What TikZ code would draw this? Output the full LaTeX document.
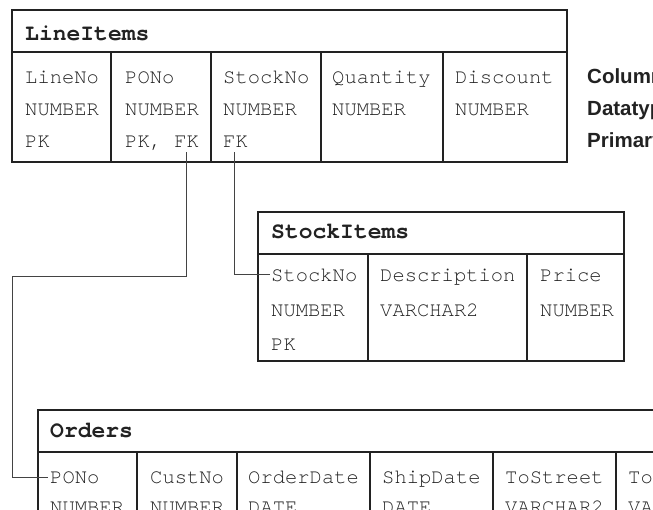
\documentclass[tikz,border=0pt]{standalone}
\usepackage{fontspec}
\newfontfamily\monof{TeX Gyre Cursor}
\newfontfamily\labf{Liberation Sans}
\definecolor{ink}{HTML}{222222}
\begin{document}
\begin{tikzpicture}[x=1pt,y=-1pt,
  cell/.style={anchor=base west, inner sep=0pt, font=\monof\fontsize{20.5}{24}\selectfont, text=ink},
  ttl/.style={anchor=base west, inner sep=0pt, font=\monof\bfseries\fontsize{23}{26}\selectfont, text=ink},
  legend/.style={anchor=base west, inner sep=0pt, font=\labf\bfseries\fontsize{20.5}{24}\selectfont, text=ink},
  tbl/.style={draw=ink, line width=1.4pt},
  sep/.style={draw=ink, line width=1.2pt},
  link/.style={draw=ink!85, line width=1pt}]
\useasboundingbox (0,0) rectangle (653,509);
\begin{scope}
\clip (0,0) rectangle (653,509);
% ---------------- LineItems
\draw[tbl] (12,10) rectangle (567,162);
\draw[sep] (12,52) -- (567,52);
\foreach \x in {111,211,321,443} \draw[sep] (\x,52) -- (\x,162);
\node[ttl] (li-title) at (25,40) {LineItems};
\node[cell] (li-lineno) at (25,83) {LineNo};
\node[cell] (li-pono) at (125,83) {PONo};
\node[cell] (li-stockno) at (223,83) {StockNo};
\node[cell] (li-qty) at (332,83) {Quantity};
\node[cell] (li-disc) at (455,83) {Discount};
\node[cell] (li-t1) at (25,115) {NUMBER};
\node[cell] (li-t2) at (125,115) {NUMBER};
\node[cell] (li-t3) at (223,115) {NUMBER};
\node[cell] (li-t4) at (332,115) {NUMBER};
\node[cell] (li-t5) at (455,115) {NUMBER};
\node[cell] (li-k1) at (25,147) {PK};
\node[cell] (li-k2) at (125,147) {PK, FK};
\node[cell] (li-k3) at (223,147) {FK};
% legend
\node[legend] (lg1) at (587,83) {Column};
\node[legend] (lg2) at (587,115) {Datatype};
\node[legend] (lg3) at (587,147) {Primary};
% ---------------- StockItems
\draw[tbl] (258,212) rectangle (624,361);
\draw[sep] (258,254) -- (624,254);
\foreach \x in {368,527} \draw[sep] (\x,254) -- (\x,361);
\node[ttl] (si-title) at (271,238) {StockItems};
\node[cell] (si-stockno) at (271,281) {StockNo};
\node[cell] (si-desc) at (380,281) {Description};
\node[cell] (si-price) at (540,281) {Price};
\node[cell] (si-t1) at (271,316) {NUMBER};
\node[cell] (si-t2) at (380,316) {VARCHAR2};
\node[cell] (si-t3) at (540,316) {NUMBER};
\node[cell] (si-k1) at (271,350) {PK};
% ---------------- Orders
\draw[tbl] (38,410) rectangle (720,620);
\draw[sep] (38,452) -- (720,452);
\foreach \x in {137,237,370,493,616} \draw[sep] (\x,452) -- (\x,620);
\node[ttl] (o-title) at (50,437) {Orders};
\node[cell] (o-pono) at (50,483) {PONo};
\node[cell] (o-custno) at (150,483) {CustNo};
\node[cell] (o-odate) at (248,483) {OrderDate};
\node[cell] (o-sdate) at (382,483) {ShipDate};
\node[cell] (o-street) at (505,483) {ToStreet};
\node[cell] (o-city) at (628,483) {ToCity};
\node[cell] (o-t1) at (50,513) {NUMBER};
\node[cell] (o-t2) at (150,513) {NUMBER};
\node[cell] (o-t3) at (248,513) {DATE};
\node[cell] (o-t4) at (382,513) {DATE};
\node[cell] (o-t5) at (505,513) {VARCHAR2};
\node[cell] (o-t6) at (628,513) {VARCHAR2};
% ---------------- connectors
\coordinate (fk-po) at (186,152);
\coordinate (fk-st) at (234,152);
\coordinate (bend1) at (186,276);
\coordinate (bend2) at (12,276);
\draw[link] (fk-po) -- (bend1) -- (bend2) |- ([xshift=-2pt]o-pono.west);
\draw[link] (fk-st) |- ([xshift=-1pt]si-stockno.west);
\end{scope}
\end{tikzpicture}
\end{document}
